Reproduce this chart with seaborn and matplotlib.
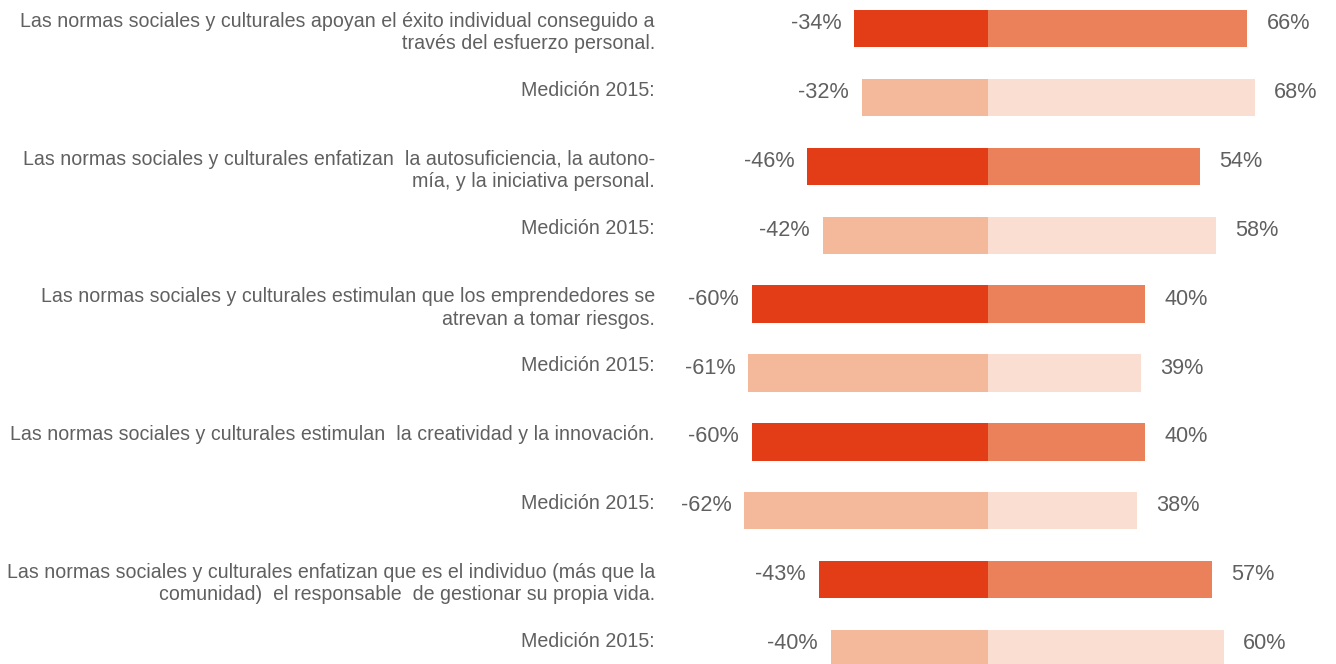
import matplotlib
matplotlib.use("Agg")
import matplotlib.pyplot as plt
import matplotlib.transforms as mtransforms
import seaborn as sns
import pandas as pd

# Statements and their 2015 comparison rows
statements = [
    "Las normas sociales y culturales apoyan el éxito individual conseguido a\ntravés del esfuerzo personal.",
    "Las normas sociales y culturales enfatizan  la autosuficiencia, la autono-\nmía, y la iniciativa personal.",
    "Las normas sociales y culturales estimulan que los emprendedores se\natrevan a tomar riesgos.",
    "Las normas sociales y culturales estimulan  la creatividad y la innovación.",
    "Las normas sociales y culturales enfatizan que es el individuo (más que la\ncomunidad)  el responsable  de gestionar su propia vida.",
]
label_2015 = "Medición 2015:"

# Disagreement (negative) and agreement (positive) shares, current vs 2015
neg_current = [-34, -46, -60, -60, -43]
pos_current = [66, 54, 40, 40, 57]
neg_2015 = [-32, -42, -61, -62, -40]
pos_2015 = [68, 58, 39, 38, 60]

# Colours
neg_cur_color = "#E33D18"
pos_cur_color = "#EB815A"
neg_old_color = "#F4B89B"
pos_old_color = "#F9DED1"
text_color = "#606060"

# Interleave current rows with their 2015 rows
row_labels, neg_vals, pos_vals, neg_cols, pos_cols = [], [], [], [], []
for i, s in enumerate(statements):
    row_labels += [s, label_2015]
    neg_vals += [neg_current[i], neg_2015[i]]
    pos_vals += [pos_current[i], pos_2015[i]]
    neg_cols += [neg_cur_color, neg_old_color]
    pos_cols += [pos_cur_color, pos_old_color]

row_ids = [f"r{i}" for i in range(len(row_labels))]
df = pd.DataFrame({"row": row_ids, "neg": neg_vals, "pos": pos_vals})

sns.set_theme(style="white")
plt.rcParams["font.family"] = ["Liberation Sans", "DejaVu Sans"]

W, H, DPI = 1336, 664, 100
fig = plt.figure(figsize=(W / DPI, H / DPI), dpi=DPI)
ax = fig.add_axes([0, 0, 1, 1])

sns.barplot(data=df, x="neg", y="row", hue="row", palette=dict(zip(row_ids, neg_cols)),
            order=row_ids, width=0.54, legend=False, ax=ax, saturation=1, orient="h")
sns.barplot(data=df, x="pos", y="row", hue="row", palette=dict(zip(row_ids, pos_cols)),
            order=row_ids, width=0.54, legend=False, ax=ax, saturation=1, orient="h")
for p in ax.patches:
    p.set_linewidth(0)

# Scale: zero line at x=988 px, ~3.93 px per percentage point
px_per_unit = 3.93
x0 = 988
ax.set_xlim(-x0 / px_per_unit, (W - x0) / px_per_unit)
row_top = 28.5
row_step = 68.9
ax.set_ylim((H - row_top) / row_step, -row_top / row_step)
ax.axis("off")

label_fs = 14.1
value_fs = 15.6

# Value labels beside each bar end, nudged slightly above the bar centre
def shift(dx, dy):
    return ax.transData + mtransforms.ScaledTranslation(dx / DPI, dy / DPI, fig.dpi_scale_trans)

for i in range(len(row_ids)):
    nv, pv = neg_vals[i], pos_vals[i]
    ax.text(nv, i, f"{nv}%", ha="right", va="center", fontsize=value_fs,
            color=text_color, transform=shift(-13, 5))
    ax.text(pv, i, f"{pv}%", ha="left", va="center", fontsize=value_fs,
            color=text_color, transform=shift(19, 5))

# Row labels, right-aligned and top-aligned with the bar
blend = mtransforms.blended_transform_factory(fig.transFigure, ax.transData)
nudge = mtransforms.ScaledTranslation(0, -2 / DPI, fig.dpi_scale_trans)
for i, lab in enumerate(row_labels):
    ax.text(655 / W, i - 0.27, lab, ha="right", va="top", fontsize=label_fs,
            color=text_color, linespacing=1.22, transform=blend + nudge)

fig.savefig("out.png", dpi=DPI)
